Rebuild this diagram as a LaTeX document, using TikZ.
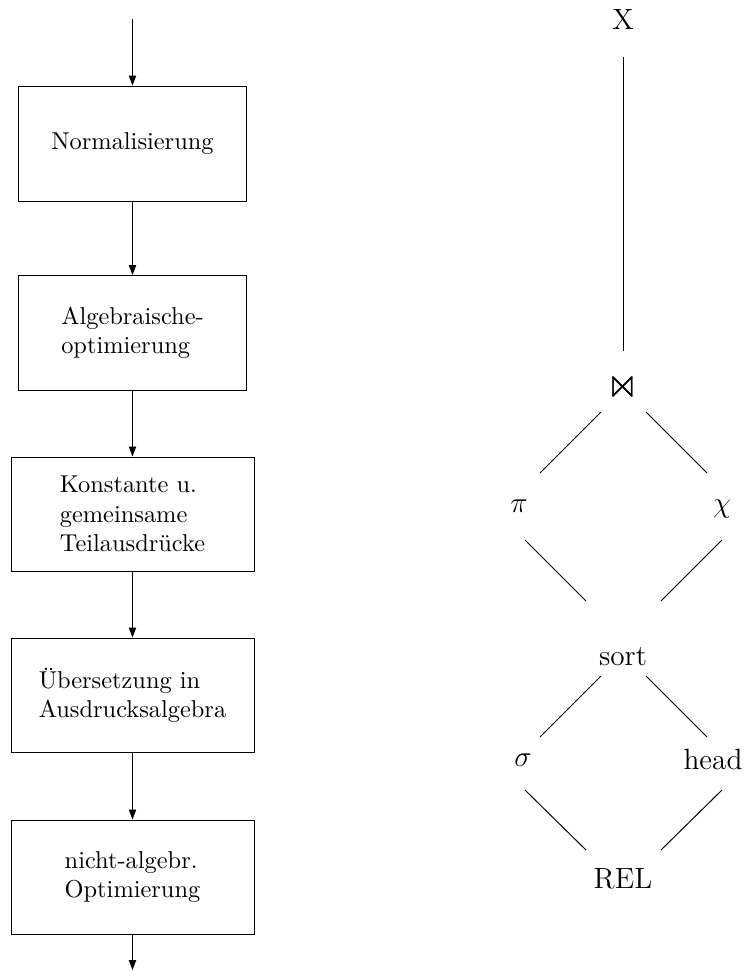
\documentclass[tikz,border=0pt]{standalone}
\usepackage{amssymb}
\usetikzlibrary{arrows.meta,calc}
\begin{document}
\begin{tikzpicture}[x=0.41pt,y=-0.41pt,
  arr/.style={-{Triangle[length=4.1pt,width=3pt]}},
  boxa/.style={draw,rectangle,inner sep=0pt,minimum width=93.48pt,minimum height=47.15pt,align=left},
  boxb/.style={draw,rectangle,inner sep=0pt,minimum width=99.63pt,minimum height=46.74pt,align=left},
  op/.style={inner sep=0pt,font=\large}]
\useasboundingbox (0,0) rectangle (746,971);
% left flow
\coordinate (top) at (132.5,19);
\coordinate (bot) at (132.5,970);
\node[boxa] (b1) at (132.5,143.5) {Normalisierung};
\node[boxa] (b2) at (132.5,333) {Algebraische-\\optimierung};
\node[boxb] (b3) at (132.5,514) {Konstante u.\\gemeinsame\\Teilausdrücke};
\node[boxb] (b4) at (132.5,695) {Übersetzung in\\Ausdrucksalgebra};
\node[boxb] (b5) at (132.5,877) {nicht-algebr.\\Optimierung};
\draw[arr] (top) -- (b1);
\draw[arr] (b1) -- (b2);
\draw[arr] (b2) -- (b3);
\draw[arr] (b3) -- (b4);
\draw[arr] (b4) -- (b5);
\draw[arr] (b5) -- (bot);
% right tree
\node[op] (X) at (623,19) {X};
\node[op,font=\LARGE] (join) at (623,386.5) {$\Join$};
\node[op] (pi) at (519,506) {$\pi$};
\node[op] (chi) at (722,509) {$\chi$};
\node[op] (sort) at (623,657) {sort};
\node[op] (sigma) at (523,760) {$\sigma$};
\node[op] (head) at (713,759) {head};
\node[op] (rel) at (623,879) {REL};
\draw ($(X.center)+(0,38)$) -- ($(join.center)+(0,-35.5)$);
\draw ($(join.center)+(-22,25.5)$) -- ($(pi.center)+(21,-33)$);
\draw ($(join.center)+(23,25.5)$) -- ($(chi.center)+(-15,-36)$);
\draw ($(pi.center)+(6,34)$) -- ($(sort.center)+(-37,-56)$);
\draw ($(chi.center)+(0,31)$) -- ($(sort.center)+(38,-56)$);
\draw ($(sort.center)+(-22,19)$) -- ($(sigma.center)+(17,-23)$);
\draw ($(sort.center)+(23,19)$) -- ($(head.center)+(-6,-22)$);
\draw ($(sigma.center)+(2,30)$) -- ($(rel.center)+(-37,-29)$);
\draw ($(head.center)+(9,31)$) -- ($(rel.center)+(38,-29)$);
\end{tikzpicture}
\end{document}
